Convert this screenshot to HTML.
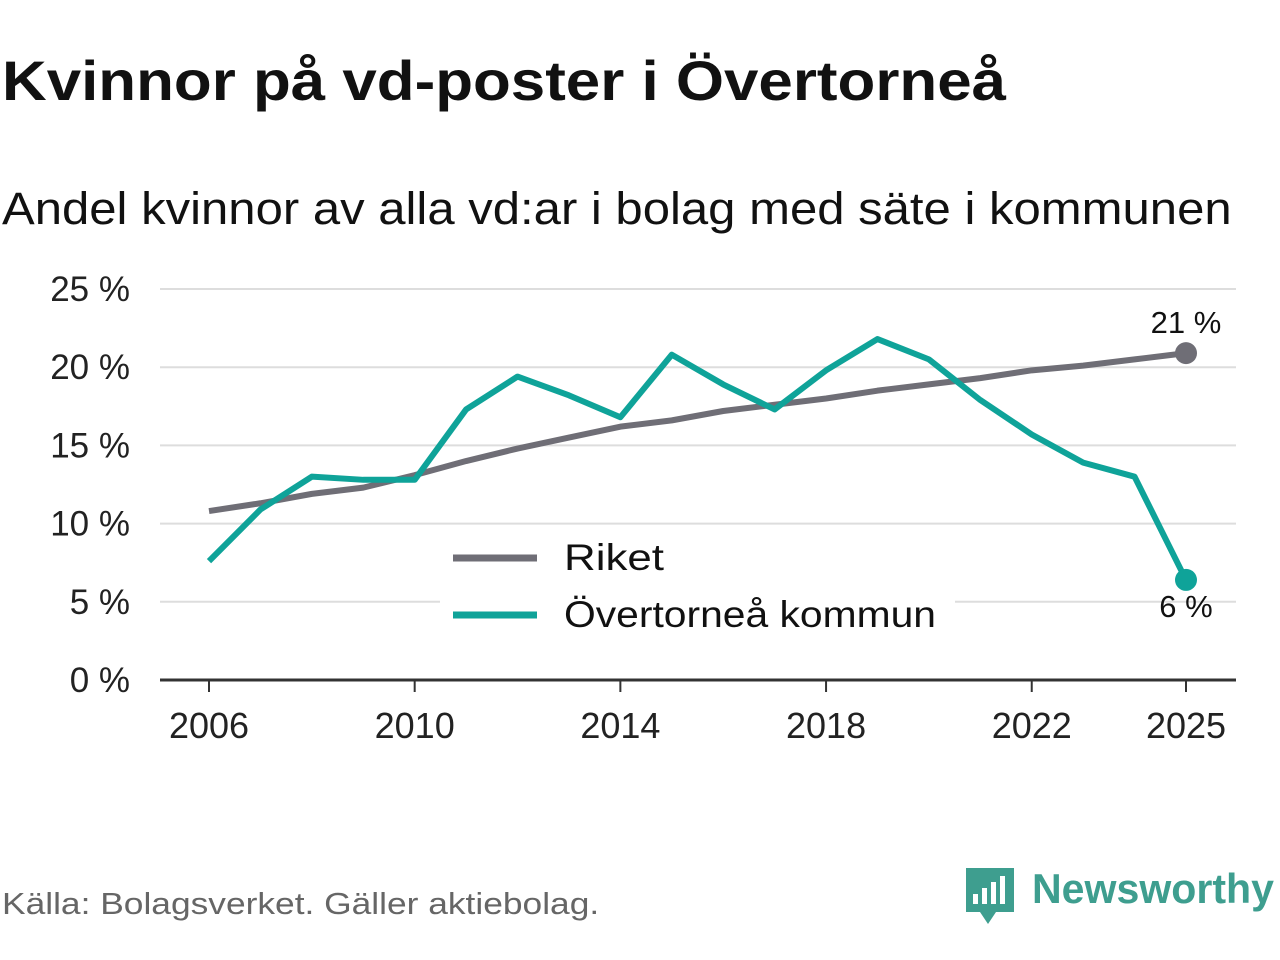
<!DOCTYPE html>
<html><head><meta charset="utf-8"><style>
body{margin:0;width:1280px;height:960px;background:#fff;font-family:"Liberation Sans","DejaVu Sans",sans-serif;overflow:hidden;position:relative}
#title{position:absolute;left:2px;top:48px;font-size:56px;font-weight:bold;color:#111;transform:scaleX(1.105);transform-origin:0 0;white-space:nowrap}
#sub{position:absolute;left:2px;top:183px;font-size:45px;color:#111;transform:scaleX(1.09);transform-origin:0 0;white-space:nowrap}
#src{position:absolute;left:2px;top:886px;font-size:31px;color:#666;transform:scaleX(1.14);transform-origin:0 0;white-space:nowrap}
svg{position:absolute;left:0;top:0}
</style></head><body>
<div id="title">Kvinnor på vd-poster i Övertorneå</div>
<div id="sub">Andel kvinnor av alla vd:ar i bolag med säte i kommunen</div>
<div id="src">Källa: Bolagsverket. Gäller aktiebolag.</div>
<svg width="1280" height="960" id="chart"></svg>
<script>
const years=[2006,2007,2008,2009,2010,2011,2012,2013,2014,2015,2016,2017,2018,2019,2020,2021,2022,2023,2024,2025];
const riket=[10.8,11.3,11.9,12.3,13.1,14.0,14.8,15.5,16.2,16.6,17.2,17.6,18.0,18.5,18.9,19.3,19.8,20.1,20.5,20.9];
const overtornea=[7.6,10.9,13.0,12.8,12.8,17.3,19.4,18.2,16.8,20.8,18.9,17.3,19.8,21.8,20.5,17.9,15.7,13.9,13.0,6.4];
const yTicks=[0,5,10,15,20,25];
const xTicks=[2006,2010,2014,2018,2022,2025];
const NS="http://www.w3.org/2000/svg";
const svg=document.getElementById('chart');
const x=v=>209+(v-2006)*(1186-209)/19;
const y=v=>680-v*(680-289)/25;
function el(t,a,txt){const e=document.createElementNS(NS,t);for(const k in a)e.setAttribute(k,a[k]);if(txt!==undefined)e.textContent=txt;svg.appendChild(e);return e;}
yTicks.forEach(t=>{
 if(t>0){const g=el('line',{x1:160,x2:1236,y1:y(t),y2:y(t),stroke:'#ddd','stroke-width':2});
 
 }
 const l=el('text',{x:130,y:y(t)+12,'text-anchor':'end','font-size':35,fill:'#222'},t+' %');
 
 
});
const ax=el('line',{x1:160,x2:1236,y1:680,y2:680,stroke:'#333','stroke-width':3});


xTicks.forEach(t=>{
 el('line',{x1:x(t),x2:x(t),y1:680,y2:692,stroke:'#333','stroke-width':2});
 const l=el('text',{x:x(t),y:738,'text-anchor':'middle','font-size':36,fill:'#222'},t);
 
 
});
const lb=el('rect',{x:440,y:525,width:515,height:115,fill:'#fff'});


function line(data,color,name){
 const p=el('polyline',{points:data.map((v,i)=>x(years[i])+','+y(v)).join(' '),fill:'none',stroke:color,'stroke-width':6,'stroke-linejoin':'round'});
 
 
 const n=data.length-1;
 const c=el('circle',{cx:x(years[n]),cy:y(data[n]),r:11,fill:color});
 
 
}
line(riket,'#6f6e76','riket-line');
line(overtornea,'#0fa399','overtornea-line');
const n=years.length-1;
const l1=el('text',{x:1186,y:y(riket[n])-20,'text-anchor':'middle','font-size':31,fill:'#111'},Math.round(riket[n])+' %');


const l2=el('text',{x:1186,y:y(overtornea[n])+37,'text-anchor':'middle','font-size':31,fill:'#111'},Math.round(overtornea[n])+' %');


[['Riket','#6f6e76',558,100],['Övertorneå kommun','#0fa399',615,372]].forEach(([t,c,yy,w])=>{
 const s=el('line',{x1:453,x2:537,y1:yy,y2:yy,stroke:c,'stroke-width':7});
 
 
 const tx=el('text',{x:564,y:yy+12,'font-size':37,fill:'#111',textLength:w,lengthAdjust:'spacingAndGlyphs'},t);
 
 
});
const g=el('g',{});


g.innerHTML='<path d="M966 868h48v44h-18l-8 12-8-12h-14z" fill="#3e9e8f"/><rect x="973" y="894" width="5" height="10" fill="#fff"/><rect x="982" y="888" width="5" height="16" fill="#fff"/><rect x="991" y="882" width="5" height="22" fill="#fff"/><rect x="1000" y="876" width="5" height="28" fill="#fff"/><text x="1032" y="903" font-size="42" font-weight="bold" fill="#3e9e8f" textLength="242" lengthAdjust="spacingAndGlyphs">Newsworthy</text>';
svg.appendChild(g);
</script>
</body></html>
